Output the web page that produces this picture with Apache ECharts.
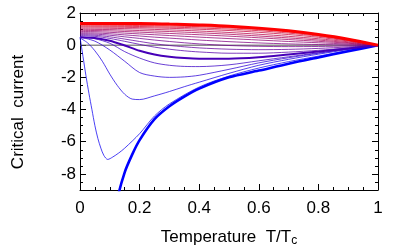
<!DOCTYPE html>
<html><head><meta charset="utf-8">
<script src="https://cdn.jsdelivr.net/npm/echarts@6/dist/echarts.min.js"></script>
<style>html,body{margin:0;padding:0;background:#fff}#c{width:407px;height:252px}</style>
</head><body><div id="c"></div>
<script>
// Temperature grid (T/Tc)
const T = [0, 0.05, 0.1, 0.15, 0.2, 0.25, 0.3, 0.35, 0.4, 0.5, 0.6, 0.7, 0.8, 0.9, 1];
const T_blue = [0.1, 0.125, 0.15, 0.175, 0.2, 0.25, 0.3, 0.35, 0.4, 0.5, 0.6, 0.7, 0.8, 0.9, 1];
const T_A = [0, 0.01, 0.02, 0.03, 0.04, 0.05, 0.06, 0.07, 0.08, 0.093, 0.11, 0.13, 0.15, 0.2, 0.25, 0.3, 0.4, 0.5, 0.6, 0.7, 0.8, 0.9, 1];
const T_B = [0, 0.025, 0.05, 0.075, 0.1, 0.125, 0.15, 0.175, 0.2, 0.25, 0.3, 0.35, 0.4, 0.5, 0.6, 0.7, 0.8, 0.9, 1];

// Critical current curves, bottom (blue) to top (red)
const curveBlue = [-12.5, -9.6, -7.9, -6.8, -5.9, -4.6, -3.8, -3.2, -2.7, -2.0, -1.58, -1.15, -0.76, -0.38, 0];
const curveA = [0.5, -0.7, -1.9, -3.0, -4.0, -5.0, -5.8, -6.4, -6.85, -7.1, -6.95, -6.7, -6.4, -5.5, -4.4, -3.65, -2.6, -1.92, -1.42, -1.02, -0.68, -0.34, 0];
const curveB = [0.45, 0.15, -0.35, -1.0, -1.8, -2.5, -3.05, -3.35, -3.38, -3.15, -2.88, -2.58, -2.3, -1.75, -1.25, -0.88, -0.56, -0.27, 0];
const curveC = [0.5, 0.25, -0.3, -1.0, -1.7, -1.92, -2.0, -1.97, -1.87, -1.5, -1.1, -0.78, -0.5, -0.24, 0];
const curveD = [0.52, 0.4, 0.12, -0.4, -0.8, -1.1, -1.25, -1.32, -1.33, -1.22, -0.97, -0.72, -0.47, -0.23, 0];
const curveE = [0.5, 0.45, 0.28, -0.02, -0.35, -0.58, -0.72, -0.8, -0.84, -0.84, -0.75, -0.58, -0.4, -0.2, 0];
const curveF = [0.6, 0.55, 0.42, 0.24, 0.05, -0.12, -0.25, -0.35, -0.42, -0.5, -0.5, -0.43, -0.32, -0.17, 0];
const curveG = [0.66, 0.62, 0.52, 0.38, 0.23, 0.09, -0.02, -0.1, -0.17, -0.25, -0.28, -0.26, -0.2, -0.11, 0];
const curveH = [0.72, 0.69, 0.62, 0.52, 0.42, 0.32, 0.23, 0.15, 0.08, -0.02, -0.07, -0.09, -0.08, -0.05, 0];
const curveI = [0.78, 0.76, 0.71, 0.64, 0.57, 0.5, 0.44, 0.38, 0.32, 0.22, 0.14, 0.08, 0.04, 0.015, 0];
const curveJ = [0.85, 0.84, 0.8, 0.75, 0.7, 0.65, 0.6, 0.55, 0.5, 0.41, 0.32, 0.23, 0.15, 0.07, 0];
const curveK = [0.92, 0.91, 0.89, 0.85, 0.81, 0.77, 0.73, 0.69, 0.65, 0.56, 0.46, 0.35, 0.24, 0.12, 0];
const curveL = [0.99, 0.98, 0.97, 0.94, 0.91, 0.88, 0.85, 0.81, 0.77, 0.68, 0.57, 0.45, 0.32, 0.16, 0];
const curveM = [1.06, 1.06, 1.05, 1.03, 1.01, 0.98, 0.95, 0.92, 0.88, 0.79, 0.68, 0.55, 0.4, 0.21, 0];
const curveN = [1.13, 1.13, 1.12, 1.11, 1.09, 1.07, 1.05, 1.02, 0.99, 0.91, 0.8, 0.66, 0.49, 0.26, 0];
const curveO = [1.19, 1.19, 1.18, 1.17, 1.16, 1.14, 1.12, 1.1, 1.07, 1.0, 0.9, 0.75, 0.56, 0.3, 0];
const curveP = [1.25, 1.25, 1.24, 1.23, 1.22, 1.21, 1.19, 1.17, 1.15, 1.08, 0.97, 0.82, 0.61, 0.33, 0];
const curveQ = [1.3, 1.3, 1.3, 1.29, 1.28, 1.27, 1.26, 1.24, 1.21, 1.14, 1.02, 0.86, 0.64, 0.35, 0];
const curveRed = [1.35, 1.35, 1.35, 1.34, 1.34, 1.33, 1.31, 1.29, 1.26, 1.18, 1.06, 0.89, 0.66, 0.37, 0];

const yTicks = [-8, -6, -4, -2, 0, 2];
const xTicks = [0, 0.2, 0.4, 0.6, 0.8, 1];

const curves = [
  [T_blue, curveBlue, 2.6], [T_A, curveA, 1], [T_B, curveB, 1], [T, curveC, 1], [T, curveD, 1],
  [T, curveE, 2], [T, curveF, 1], [T, curveG, 1], [T, curveH, 1], [T, curveI, 1],
  [T, curveJ, 1], [T, curveK, 1], [T, curveL, 1], [T, curveM, 1], [T, curveN, 1],
  [T, curveO, 1], [T, curveP, 1], [T, curveQ, 1], [T, curveRed, 3]
];

const n = curves.length;
const series = [{
  type: 'line', data: [[0, 0], [1, 0]], symbol: 'none', silent: true, z: 1,
  lineStyle: { color: '#555', width: 1 }
}];
curves.forEach((c, i) => {
  const f = i / (n - 1);
  const r = Math.round(255 * f), b = Math.round(255 * (1 - f));
  const thick = c[2] > 1;
  series.push({
    type: 'line', symbol: 'none', smooth: 0.3, silent: true, z: thick ? 3 : 2,
    data: c[0].map((t, k) => [t, c[1][k]]),
    lineStyle: { color: `rgb(${r},0,${b})`, width: c[2], opacity: thick ? 1 : 0.75 }
  });
});

const font = 'Liberation Sans, Arial, sans-serif';
const line = { show: true, onZero: false, lineStyle: { color: '#000', width: 1 } };
const chart = echarts.init(document.getElementById('c'), null, { renderer: 'canvas' });
chart.setOption({
  animation: false,
  grid: { left: 80, right: 29, top: 13, bottom: 56 },
  xAxis: [
    { type: 'value', min: 0, max: 1, interval: 0.2, position: 'bottom',
      axisLine: line,
      axisTick: { show: true, inside: true, length: 6, lineStyle: { color: '#000' } },
      minorTick: { show: true, splitNumber: 4, length: 3, lineStyle: { color: '#000' } },
      splitLine: { show: false },
      axisLabel: { color: '#000', fontSize: 17, fontFamily: font, margin: 10,
        formatter: v => String(Math.round(v * 10) / 10) },
      name: '{a|Temperature  T/T}{s|c}', nameLocation: 'middle', nameGap: 37,
      nameTextStyle: { rich: { a: { fontSize: 17, fontFamily: font, color: '#000' },
        s: { fontSize: 12, fontFamily: font, color: '#000', verticalAlign: 'bottom', padding: [8, 0, 0, 0] } } }
    },
    { type: 'value', min: 0, max: 1, interval: 0.2, position: 'top',
      axisLine: line,
      axisTick: { show: true, inside: true, length: 6, lineStyle: { color: '#000' } },
      minorTick: { show: true, splitNumber: 4, length: 3, lineStyle: { color: '#000' } },
      splitLine: { show: false }, axisLabel: { show: false } }
  ],
  yAxis: [
    { type: 'value', min: -9, max: 2, position: 'left',
      axisLine: line,
      axisTick: { show: true, inside: true, length: 6, customValues: yTicks, lineStyle: { color: '#000' } },
      splitLine: { show: false },
      axisLabel: { color: '#000', fontSize: 17, fontFamily: font, margin: 4, customValues: yTicks,
        formatter: v => String(v) }
    },
    { type: 'value', min: -9, max: 2, interval: 0.5, position: 'left',
      axisLine: { show: false, onZero: false }, splitLine: { show: false }, axisLabel: { show: false },
      axisTick: { show: true, inside: true, length: 3, lineStyle: { color: '#000' } } },
    { type: 'value', min: -9, max: 2, position: 'right',
      axisLine: line,
      axisTick: { show: true, inside: true, length: 6, customValues: yTicks, lineStyle: { color: '#000' } },
      splitLine: { show: false }, axisLabel: { show: false } },
    { type: 'value', min: -9, max: 2, interval: 0.5, position: 'right',
      axisLine: { show: false, onZero: false }, splitLine: { show: false }, axisLabel: { show: false },
      axisTick: { show: true, inside: true, length: 3, lineStyle: { color: '#000' } } }
  ],
  graphic: [{
    type: 'text', x: 18, y: 112, rotation: Math.PI / 2,
    style: { text: 'Critical  current', font: '17px ' + font, fill: '#000', align: 'center', verticalAlign: 'middle' }
  }],
  series: series
});
</script></body></html>
